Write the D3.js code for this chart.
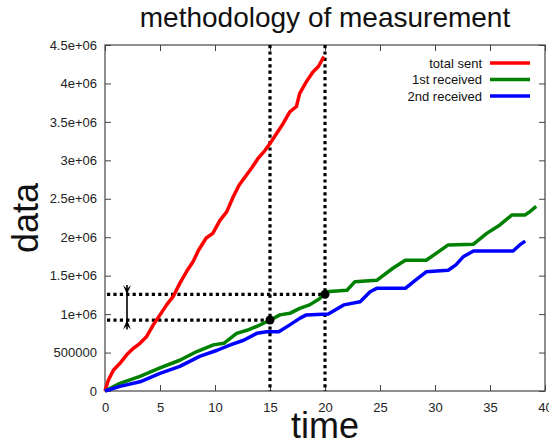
<!DOCTYPE html>
<html><head><meta charset="utf-8">
<script src="https://cdn.jsdelivr.net/npm/d3@7"></script>
<style>body{margin:0;background:#fff;} svg{display:block;} text{font-family:"Liberation Sans",Arial,sans-serif;}</style>
</head><body><svg id="c" width="549" height="442"></svg>
<script>
const title = "methodology of measurement";
const xLabel = "time", yLabel = "data";
const xTicks = [0,5,10,15,20,25,30,35,40];
const yTicks = [0,500000,1000000,1500000,2000000,2500000,3000000,3500000,4000000,4500000];
const yTickLabels = ["0","500000","1e+06","1.5e+06","2e+06","2.5e+06","3e+06","3.5e+06","4e+06","4.5e+06"];
const seriesNames = ["total sent","1st received","2nd received"];
const seriesColors = ["#ff0000","#008000","#0000ff"];
const sentT = [0,0.3,0.76,1.36,1.97,2.58,3.18,3.79,4.39,5,5.6,6.2,6.8,7.4,8.0,8.5,9.2,9.8,10.45,11.06,11.67,12.2,13.33,13.94,14.55,15,15.6,16.2,16.8,17.4,17.7,18.3,18.9,19.4,19.9];
const sentV = [0,140000,270000,360000,470000,555000,620000,710000,860000,990000,1120000,1230000,1400000,1550000,1680000,1830000,1990000,2050000,2220000,2330000,2530000,2680000,2900000,3030000,3130000,3220000,3350000,3480000,3630000,3700000,3870000,4020000,4150000,4220000,4350000];
const firstT = [0,1.36,3.18,5,6.8,8.3,9.85,10.8,11.97,12.9,13.8,15,15.9,16.8,17.7,18.6,19.5,20.1,22.0,22.7,24.7,26.2,27.3,29.2,30.3,31.2,33.5,34.7,35.9,37.0,38.2,38.6,39.2];
const firstV = [0,100000,190000,300000,400000,510000,600000,620000,750000,790000,840000,920000,990000,1010000,1075000,1120000,1200000,1290000,1310000,1420000,1440000,1600000,1700000,1700000,1810000,1900000,1910000,2050000,2160000,2290000,2290000,2330000,2400000];
const secondT = [0,1.36,3.18,5,6.8,8.6,10.2,11.4,12.6,13.8,14.7,15.8,16.8,17.7,18.3,20.3,21.7,23.2,24.1,24.7,27.3,28.2,29.2,31.2,31.9,32.6,33.5,37.1,37.7,38.2];
const secondV = [0,60000,120000,230000,320000,450000,530000,600000,660000,750000,770000,770000,860000,945000,990000,1000000,1120000,1160000,1290000,1335000,1335000,1440000,1550000,1570000,1640000,1750000,1820000,1820000,1900000,1950000];
const markT = [15,20];
const markV = [923000,1257000];
const arrowT = 2;
const arrowV = [1380000,1257000,923000,800000];

const svg = d3.select("#c");
const L=105, R=545, T=45, B=391;
const x = d3.scaleLinear().domain([0,40]).range([L,R]);
const y = d3.scaleLinear().domain([0,4500000]).range([B,T]);
const axisCol = "#444";
const tk = 6;

// title & labels
svg.append("text").attr("x",325).attr("y",27).attr("text-anchor","middle").attr("font-size",28).attr("fill","#111").text(title);
svg.append("text").attr("x",325).attr("y",438).attr("text-anchor","middle").attr("font-size",36).attr("fill","#111").text(xLabel);
svg.append("text").attr("transform","translate(38,218) rotate(-90)").attr("text-anchor","middle").attr("font-size",36).attr("fill","#111").text(yLabel);

// axes with inward ticks on all sides
const fmtY = d => yTickLabels[yTicks.indexOf(d)];
const ax = [
  svg.append("g").attr("transform",`translate(0,${B})`).call(d3.axisBottom(x).tickValues(xTicks).tickSize(-tk).tickPadding(12).tickFormat(d=>d)),
  svg.append("g").attr("transform",`translate(${L},0)`).call(d3.axisLeft(y).tickValues(yTicks).tickSize(-tk).tickPadding(8).tickFormat(fmtY)),
  svg.append("g").attr("transform",`translate(0,${T})`).call(d3.axisTop(x).tickValues(xTicks).tickSize(-tk).tickFormat("")),
  svg.append("g").attr("transform",`translate(${R},0)`).call(d3.axisRight(y).tickValues(yTicks).tickSize(-tk).tickFormat(""))
];
ax.forEach(g=>{
  g.select(".domain").remove();
  g.selectAll("line").attr("stroke",axisCol);
  g.selectAll("text").attr("font-size",13).attr("fill","#222").attr("font-family","Liberation Sans, Arial, sans-serif");
});
svg.append("rect").attr("x",L).attr("y",T).attr("width",R-L).attr("height",B-T).attr("fill","none").attr("stroke",axisCol).attr("stroke-width",1.2);

// dotted guides
const dot = {stroke:"#000","stroke-width":3.2,"stroke-dasharray":"3.2,3.2"};
function dl(x1,y1,x2,y2){const l=svg.append("line").attr("x1",x1).attr("y1",y1).attr("x2",x2).attr("y2",y2);for(const k in dot)l.attr(k,dot[k]);}
markT.forEach(t=>dl(x(t),T,x(t),B));
markT.forEach((t,i)=>dl(L+2,y(markV[i]),x(t),y(markV[i])));

// series
const line = d3.line().x(d=>x(d[0])).y(d=>y(d[1]));
const series = [[sentT,sentV],[firstT,firstV],[secondT,secondV]];
series.forEach((s,i)=>{
  svg.append("path").datum(s[0].map((t,j)=>[t,s[1][j]])).attr("d",line)
    .attr("fill","none").attr("stroke",seriesColors[i]).attr("stroke-width",3.5).attr("stroke-linejoin","round");
});

// marks
markT.forEach((t,i)=>svg.append("circle").attr("cx",x(t)).attr("cy",y(markV[i])).attr("r",4.5).attr("fill","#000"));

// double arrow
const ax0 = x(arrowT);
svg.append("line").attr("x1",ax0).attr("x2",ax0).attr("y1",y(arrowV[0])).attr("y2",y(arrowV[3])).attr("stroke","#000").attr("stroke-width",1.6);
const yt=y(arrowV[1]), yb=y(arrowV[2]), y0=y(arrowV[0]), y3=y(arrowV[3]);
svg.append("path").attr("d",`M${ax0-4},${y0} L${ax0},${yt} L${ax0+4},${y0} L${ax0},${y0+4} Z`).attr("fill","#000");
svg.append("path").attr("d",`M${ax0-4},${y3} L${ax0},${yb} L${ax0+4},${y3} L${ax0},${y3-4} Z`).attr("fill","#000");

// legend
seriesNames.forEach((n,i)=>{
  const yy = 63 + i*16.5;
  svg.append("text").attr("x",482).attr("y",yy+4.5).attr("text-anchor","end").attr("font-size",13).attr("fill","#111").text(n);
  svg.append("line").attr("x1",490).attr("x2",530).attr("y1",yy).attr("y2",yy).attr("stroke",seriesColors[i]).attr("stroke-width",3.5);
});
</script></body></html>
